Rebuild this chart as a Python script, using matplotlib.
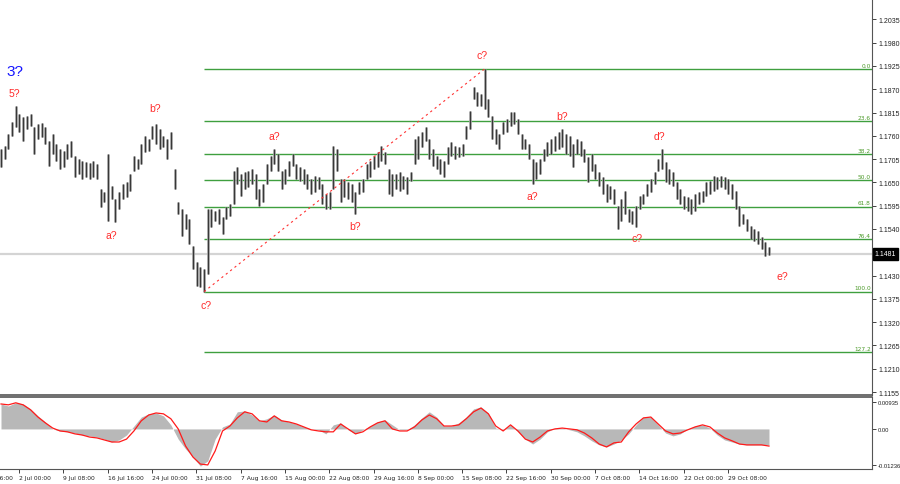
import numpy as np
import matplotlib
matplotlib.use('Agg')
import matplotlib.pyplot as plt
from matplotlib.transforms import blended_transform_factory

# bar highs / lows (one bar per slot)
highs = [
    1.1729, 1.1736, 1.1764, 1.1793, 1.1831, 1.1812, 1.1805, 1.1807, 1.1812, 1.1781,
    1.1788, 1.1790, 1.1781, 1.1748, 1.1764, 1.1741, 1.1729, 1.1724, 1.1741, 1.1748,
    1.1713, 1.1705, 1.1701, 1.1698, 1.1696, 1.1701, 1.1694, 1.1635, 1.1628, 1.1717,
    1.1642, 1.1611, 1.1628, 1.1646, 1.1651, 1.1670, 1.1713, 1.1705, 1.1741, 1.1760,
    1.1753, 1.1783, 1.1788, 1.1776, 1.1760, 1.1753, 1.1769, 1.1682, 1.1604, 1.1587,
    1.1576, 1.1564, 1.1500, 1.1462, 1.1451, 1.1446, 1.1587, 1.1587, 1.1583, 1.1587,
    1.1568, 1.1592, 1.1599, 1.1677, 1.1687, 1.1670, 1.1675, 1.1677, 1.1682, 1.1670,
    1.1635, 1.1646, 1.1694, 1.1713, 1.1729, 1.1717, 1.1677, 1.1682, 1.1701, 1.1717,
    1.1694, 1.1687, 1.1682, 1.1670, 1.1658, 1.1665, 1.1663, 1.1646, 1.1623, 1.1628,
    1.1736, 1.1729, 1.1658, 1.1658, 1.1651, 1.1646, 1.1628, 1.1651, 1.1658, 1.1694,
    1.1701, 1.1713, 1.1722, 1.1736, 1.1722, 1.1682, 1.1670, 1.1670, 1.1675, 1.1665,
    1.1663, 1.1675, 1.1753, 1.1760, 1.1769, 1.1781, 1.1753, 1.1729, 1.1713, 1.1705,
    1.1701, 1.1734, 1.1746, 1.1736, 1.1734, 1.1741, 1.1783, 1.1819, 1.1875, 1.1864,
    1.1859, 1.1918, 1.1847, 1.1807, 1.1776, 1.1764, 1.1793, 1.1800, 1.1816, 1.1816,
    1.1800, 1.1764, 1.1753, 1.1741, 1.1705, 1.1698, 1.1705, 1.1729, 1.1746, 1.1753,
    1.1760, 1.1769, 1.1776, 1.1764, 1.1760, 1.1741, 1.1753, 1.1748, 1.1729, 1.1710,
    1.1717, 1.1694, 1.1675, 1.1663, 1.1646, 1.1642, 1.1635, 1.1594, 1.1611, 1.1630,
    1.1587, 1.1583, 1.1594, 1.1618, 1.1623, 1.1646, 1.1658, 1.1675, 1.1705, 1.1729,
    1.1698, 1.1682, 1.1675, 1.1651, 1.1635, 1.1618, 1.1616, 1.1611, 1.1623, 1.1628,
    1.1630, 1.1651, 1.1653, 1.1665, 1.1663, 1.1665, 1.1663, 1.1658, 1.1646, 1.1630,
    1.1594, 1.1576, 1.1564, 1.1547, 1.1540, 1.1535, 1.1521, 1.1510, 1.1498,
]
lows = [
    1.1687, 1.1705, 1.1729, 1.1760, 1.1781, 1.1769, 1.1748, 1.1776, 1.1783, 1.1717,
    1.1753, 1.1757, 1.1741, 1.1689, 1.1717, 1.1701, 1.1682, 1.1687, 1.1705, 1.1710,
    1.1663, 1.1670, 1.1658, 1.1663, 1.1658, 1.1663, 1.1658, 1.1592, 1.1604, 1.1559,
    1.1611, 1.1557, 1.1587, 1.1611, 1.1616, 1.1630, 1.1677, 1.1682, 1.1694, 1.1722,
    1.1724, 1.1753, 1.1741, 1.1729, 1.1734, 1.1705, 1.1729, 1.1635, 1.1576, 1.1524,
    1.1540, 1.1505, 1.1446, 1.1406, 1.1403, 1.1392, 1.1434, 1.1545, 1.1559, 1.1552,
    1.1528, 1.1564, 1.1571, 1.1599, 1.1646, 1.1618, 1.1635, 1.1639, 1.1646, 1.1611,
    1.1594, 1.1604, 1.1646, 1.1677, 1.1694, 1.1677, 1.1635, 1.1646, 1.1665, 1.1689,
    1.1658, 1.1653, 1.1646, 1.1635, 1.1623, 1.1628, 1.1635, 1.1599, 1.1587, 1.1587,
    1.1635, 1.1677, 1.1604, 1.1616, 1.1611, 1.1604, 1.1576, 1.1623, 1.1628, 1.1658,
    1.1663, 1.1682, 1.1687, 1.1701, 1.1694, 1.1623, 1.1618, 1.1635, 1.1630, 1.1635,
    1.1623, 1.1653, 1.1694, 1.1705, 1.1734, 1.1748, 1.1705, 1.1689, 1.1682, 1.1670,
    1.1663, 1.1694, 1.1713, 1.1705, 1.1710, 1.1713, 1.1753, 1.1776, 1.1847, 1.1831,
    1.1831, 1.1823, 1.1805, 1.1753, 1.1741, 1.1729, 1.1764, 1.1769, 1.1783, 1.1788,
    1.1764, 1.1729, 1.1729, 1.1705, 1.1646, 1.1658, 1.1670, 1.1701, 1.1713, 1.1717,
    1.1724, 1.1729, 1.1734, 1.1717, 1.1713, 1.1687, 1.1717, 1.1713, 1.1698, 1.1651,
    1.1677, 1.1658, 1.1642, 1.1623, 1.1604, 1.1611, 1.1599, 1.1540, 1.1559, 1.1576,
    1.1557, 1.1552, 1.1545, 1.1587, 1.1599, 1.1618, 1.1628, 1.1646, 1.1677, 1.1682,
    1.1651, 1.1646, 1.1642, 1.1611, 1.1599, 1.1587, 1.1583, 1.1576, 1.1583, 1.1599,
    1.1604, 1.1618, 1.1623, 1.1630, 1.1635, 1.1639, 1.1635, 1.1623, 1.1611, 1.1587,
    1.1547, 1.1552, 1.1535, 1.1517, 1.1512, 1.1505, 1.1493, 1.1476, 1.1479,
]
last_price = 1.1481

# fibo retracement from the c? low to the c? high
fib_low = 1.1392
fib_high = 1.1918
fib_low_bar = 55
fib_high_bar = 131
fib_ratios = [0.0, 23.6, 38.2, 50.0, 61.8, 76.4, 100.0, 127.2]
fib_names = ['0.0', '23.6', '38.2', '50.0', '61.8', '76.4', '100.0', '127.2']

# wave marks
wave_text = ['5?', 'a?', 'b?', 'c?', 'a?', 'b?', 'c?', 'a?', 'b?', 'c?', 'd?', 'e?']
wave_bar = [3.7, 29.9, 41.7, 55.5, 74.1, 95.9, 130.3, 144.0, 152.0, 172.3, 178.4, 211.5]
wave_price = [1.1862, 1.1525, 1.1825, 1.1361, 1.1759, 1.1546, 1.1951,
              1.1617, 1.1806, 1.1519, 1.1759, 1.1430]
big_wave = '3?'
big_wave_bar = 3.8
big_wave_price = 1.1912

price_ticks = [1.2035, 1.1980, 1.1925, 1.1870, 1.1815, 1.1760, 1.1705, 1.1650,
               1.1595, 1.1540, 1.1430, 1.1375, 1.1320, 1.1265, 1.1210, 1.1155]
date_labels = ['25 Jun 16:00', '2 Jul 00:00', '9 Jul 08:00', '16 Jul 16:00', '24 Jul 00:00',
               '31 Jul 08:00', '7 Aug 16:00', '15 Aug 00:00', '22 Aug 08:00',
               '29 Aug 16:00', '8 Sep 00:00', '15 Sep 08:00', '22 Sep 16:00',
               '30 Sep 00:00', '7 Oct 08:00', '14 Oct 16:00', '22 Oct 00:00', '29 Oct 08:00']

# MACD, one value every 2 bars
macd_hist = [
    0.0086, 0.0079, 0.0090, 0.0086, 0.0069, 0.0045, 0.0024, 0.0000, -0.0007, -0.0010,
    -0.0014, -0.0021, -0.0024, -0.0028, -0.0035, -0.0045, -0.0038, -0.0021, 0.0010, 0.0041,
    0.0052, 0.0055, 0.0045, 0.0014, -0.0035, -0.0069, -0.0097, -0.0128, -0.0110, -0.0035,
    0.0007, 0.0017, 0.0059, 0.0062, 0.0048, 0.0028, 0.0035, 0.0048, 0.0031, 0.0024,
    0.0017, 0.0007, 0.0000, -0.0003, -0.0017, 0.0014, 0.0021, -0.0003, -0.0017, -0.0003,
    0.0010, 0.0024, 0.0031, 0.0014, -0.0003, -0.0003, 0.0014, 0.0038, 0.0059, 0.0041,
    0.0010, 0.0010, 0.0021, 0.0041, 0.0069, 0.0076, 0.0055, 0.0003, -0.0003, 0.0014,
    -0.0010, -0.0035, -0.0052, -0.0035, -0.0010, 0.0003, 0.0003, -0.0003, -0.0010, -0.0024,
    -0.0041, -0.0055, -0.0062, -0.0052, -0.0038, -0.0017, 0.0014, 0.0041, 0.0041, 0.0014,
    -0.0014, -0.0024, -0.0017, 0.0000, 0.0010, 0.0014, 0.0003, -0.0021, -0.0038, -0.0045,
    -0.0052, -0.0055, -0.0055, -0.0055, -0.0055,
]
macd_signal = [
    0.0086, 0.0083, 0.0090, 0.0083, 0.0066, 0.0041, 0.0021, 0.0003, -0.0007, -0.0010,
    -0.0017, -0.0021, -0.0028, -0.0031, -0.0038, -0.0045, -0.0045, -0.0035, -0.0007, 0.0028,
    0.0048, 0.0055, 0.0052, 0.0035, 0.0000, -0.0059, -0.0097, -0.0121, -0.0124, -0.0076,
    -0.0007, 0.0010, 0.0038, 0.0059, 0.0052, 0.0028, 0.0024, 0.0045, 0.0028, 0.0024,
    0.0017, 0.0007, -0.0003, -0.0007, -0.0010, -0.0010, 0.0017, 0.0000, -0.0017, -0.0010,
    0.0007, 0.0021, 0.0028, 0.0000, -0.0007, -0.0007, 0.0007, 0.0031, 0.0048, 0.0035,
    0.0010, 0.0010, 0.0014, 0.0035, 0.0059, 0.0072, 0.0052, 0.0010, -0.0007, 0.0014,
    -0.0007, -0.0035, -0.0045, -0.0028, -0.0007, 0.0000, 0.0003, 0.0000, -0.0003, -0.0014,
    -0.0031, -0.0052, -0.0062, -0.0048, -0.0045, -0.0010, 0.0017, 0.0038, 0.0041, 0.0017,
    -0.0007, -0.0017, -0.0014, -0.0003, 0.0007, 0.0014, 0.0007, -0.0014, -0.0031, -0.0041,
    -0.0052, -0.0055, -0.0055, -0.0055, -0.0059,
]
macd_top_label = 0.00935
macd_bottom_label = -0.01236

fig = plt.figure(figsize=(9, 4.85), dpi=100)
ax = fig.add_axes([0.0, 1 - 396 / 485, 872 / 900, 396 / 485])
ax2 = fig.add_axes([0.0, 15 / 485, 872 / 900, 72 / 485])

bars = np.arange(len(highs))
xmin, xmax = -0.27, 235.9

# price bars
ax.axhline(last_price, color='#d4d4d4', lw=1.6, zorder=1)
ax.vlines(bars, lows, highs, color='#a0a0a0', lw=1.9, zorder=2)
ax.vlines(bars, lows, highs, color='#383838', lw=0.8, zorder=3)

# fibo
levels = [fib_high - r / 100 * (fib_high - fib_low) for r in fib_ratios]
ax.hlines(levels, fib_low_bar, xmax, color='#3f9f3f', lw=1.0, zorder=1)
ax.plot([fib_low_bar, fib_high_bar], [fib_low, fib_high], color='#ff3030', lw=0.8,
        ls=(0, (2, 3)), zorder=4)
for lev, name in zip(levels, fib_names):
    ax.text(xmax - 0.3, lev + 0.0003, name, fontsize=4.2, color='#4c9a2a',
            ha='right', va='bottom', family='DejaVu Sans')

for t, b, p in zip(wave_text, wave_bar, wave_price):
    ax.text(b, p, t, color='#ff2a2a', fontsize=7.5, ha='center', va='center',
            family='Liberation Sans')
ax.text(big_wave_bar, big_wave_price, big_wave, color='#1515ff', fontsize=11,
        ha='center', va='center', family='Liberation Sans')

ax.set_xlim(xmin, xmax)
ax.set_ylim(1.1148, 1.2083)
ax.yaxis.tick_right()
ax.set_yticks(price_ticks)
ax.set_yticklabels(['%.4f' % v for v in price_ticks], family='Liberation Sans')
ax.tick_params(axis='y', labelsize=5, length=3, width=0.6, pad=1.5, colors='#222222')
ax.set_xticks([])
for s in ['top', 'left']:
    ax.spines[s].set_visible(False)
ax.spines['right'].set_color('#555555')
ax.spines['bottom'].set_color('#555555')
ax.spines['bottom'].set_linewidth(1.2)

trans = blended_transform_factory(ax.transAxes, ax.transData)
ax.text(1.003, last_price, '%.4f' % last_price, transform=trans, fontsize=5,
        color='white', va='center', ha='left', family='Liberation Sans',
        bbox=dict(boxstyle='square,pad=0.3', fc='black', ec='black'))

# MACD
mx = 2 * np.arange(len(macd_hist))
ax2.fill_between(mx, macd_hist, 0, color='#b8b8b8', lw=0, zorder=1)
ax2.plot(mx, macd_signal, color='#ff1a1a', lw=0.9, zorder=3)
ax2.set_xlim(xmin, xmax)
ax2.set_ylim(-0.0138, 0.0110)
ax2.yaxis.tick_right()
ax2.set_yticks([macd_top_label, 0.0, macd_bottom_label])
ax2.set_yticklabels(['%.5f' % macd_top_label, '0.00', '%.5f' % macd_bottom_label],
                    family='Liberation Sans')
ax2.tick_params(axis='y', labelsize=4.2, length=3, width=0.6, pad=1, colors='#222222')
ax2.spines['left'].set_visible(False)
for s in ['top', 'right', 'bottom']:
    ax2.spines[s].set_color('#555555')
ax2.spines['top'].set_linewidth(1.2)

tick_pos = 4.9 + 12 * np.arange(len(date_labels) - 1)
ax2.set_xticks(tick_pos)
ax2.set_xticklabels(date_labels[1:], ha='left')
ax2.tick_params(axis='x', labelsize=4.3, length=3, width=0.6, pad=1, colors='#222222')
btrans = blended_transform_factory(ax2.transData, ax2.transAxes)
ax2.text(4.9 - 12, -0.085, date_labels[0], transform=btrans, fontsize=4.3,
         color='#222222', ha='left', va='top', clip_on=False)

fig.savefig('out.png', dpi=100)
